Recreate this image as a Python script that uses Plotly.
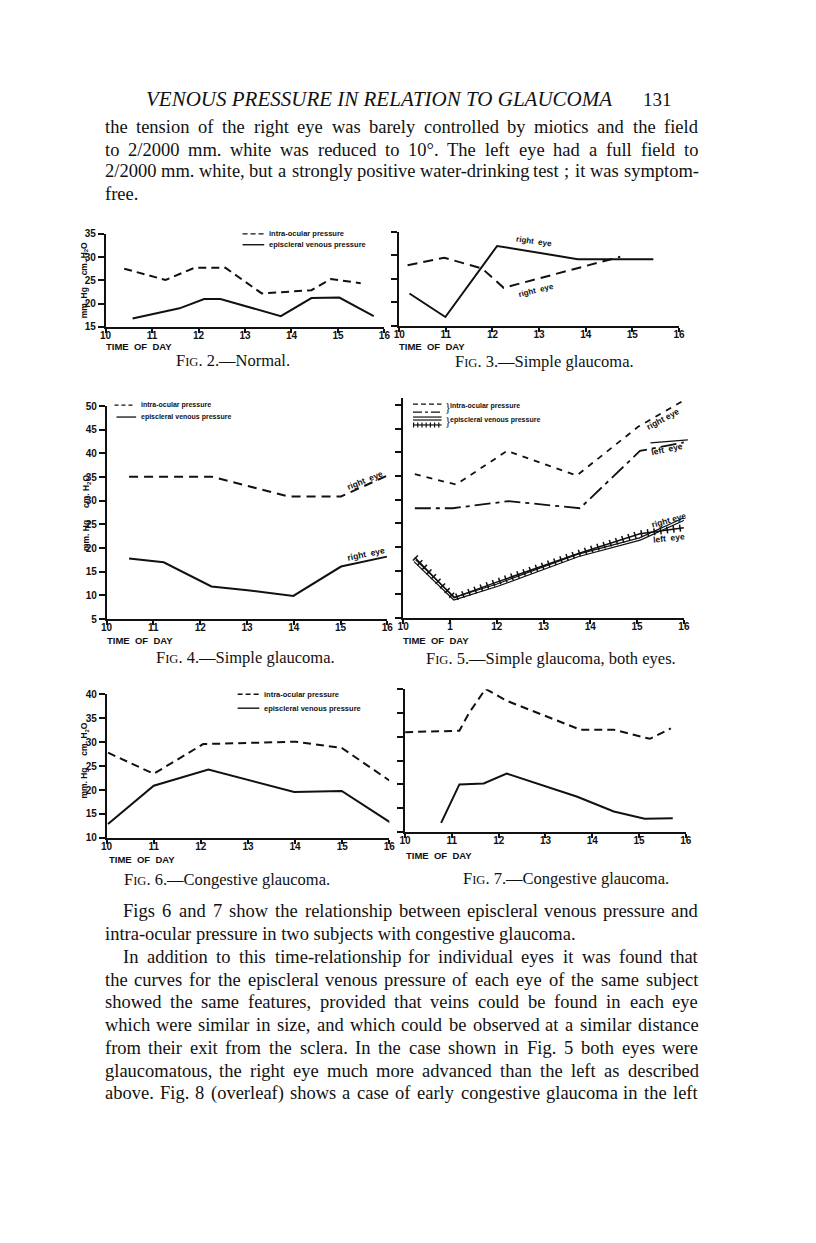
import plotly.graph_objects as go

PAGE_W, PAGE_H = 816, 1243
OFF = 8  # default page margin of the html body
W, H = PAGE_W - OFF, PAGE_H - OFF

# ---------------- data (hours of day, pressure) ----------------
# Fig 2 - Normal
f2_iop_t = [10.40, 11.29, 11.91, 12.58, 13.36, 14.43, 14.85, 15.49]
f2_iop_v = [27.5, 25.1, 27.7, 27.7, 22.2, 22.9, 25.3, 24.4]
f2_evp_t = [10.58, 11.59, 12.12, 12.47, 13.77, 14.43, 15.03, 15.77]
f2_evp_v = [16.8, 19.0, 21.0, 21.0, 17.3, 21.2, 21.3, 17.3]
# Fig 3 - Simple glaucoma
f3_iop_t = [10.18, 10.97, 11.78, 12.24, 14.74]
f3_iop_v = [27.9, 29.5, 27.2, 23.1, 29.7]
f3_evp_t = [10.22, 10.99, 12.10, 13.83, 15.45]
f3_evp_v = [21.9, 16.9, 32.0, 29.2, 29.2]
# Fig 4 - Simple glaucoma
f4_iop_t = [10.48, 12.24, 13.89, 15.01, 15.99]
f4_iop_v = [35.1, 35.1, 30.9, 30.9, 35.3]
f4_evp_t = [10.48, 11.22, 12.24, 13.01, 13.99, 15.01, 15.99]
f4_evp_v = [17.8, 17.0, 11.9, 11.1, 9.9, 16.1, 18.2]
# Fig 5 - Simple glaucoma, both eyes
f5_iop_r_t = [10.25, 11.13, 12.22, 13.71, 15.02, 16.0]
f5_iop_r_v = [35.4, 33.2, 40.3, 35.1, 45.4, 51.0]
f5_iop_l_t = [10.25, 11.06, 12.25, 13.78, 15.06, 16.0]
f5_iop_l_v = [28.2, 28.2, 29.7, 28.2, 40.3, 42.1]
f5_evp_t = [10.25, 11.09, 12.0, 13.73, 15.06, 16.0]
f5_evp_r_v = [17.1, 9.1, 11.9, 18.2, 21.7, 25.9]
f5_evp_l_v = [17.8, 9.3, 12.6, 18.6, 22.8, 24.1]
# Fig 6 - Congestive glaucoma
f6_iop_t = [10.03, 11.0, 12.05, 14.01, 14.99, 16.0]
f6_iop_v = [27.8, 23.4, 29.6, 30.1, 28.8, 22.0]
f6_evp_t = [10.03, 11.0, 12.16, 13.98, 14.99, 16.04]
f6_evp_v = [12.9, 20.9, 24.3, 19.6, 19.8, 13.1]
# Fig 7 - Congestive glaucoma
f7_iop_t = [10.0, 11.16, 11.37, 11.72, 12.17, 13.75, 14.46, 15.23, 15.68]
f7_iop_v = [31.0, 31.3, 35.1, 40.1, 37.6, 31.5, 31.5, 29.6, 31.8]
f7_evp_t = [10.77, 11.16, 11.68, 12.17, 13.68, 14.46, 15.12, 15.72]
f7_evp_v = [11.9, 20.0, 20.2, 22.3, 17.4, 14.3, 12.8, 12.9]

hour_ticks = [10, 11, 12, 13, 14, 15, 16]
hour_labels_a = ["10", "11", "12", "13", "14", "15", "16"]
hour_labels_5 = ["10", "1", "12", "13", "14", "15", "16"]

BLACK = "#111111"
SANS = "Liberation Sans Narrow, Arial Narrow, Liberation Sans, Arial"
SERIF = "Liberation Serif, Times New Roman, serif"


def px(x):
    return (x - OFF) / W


def py(y):
    return 1 - (y - OFF) / H


fig = go.Figure()

panels = [
    ("", (101, 384), (324, 230), (15, 35), [15, 20, 25, 30, 35], True),
    ("2", (399, 683), (323, 228), (15, 35), [15, 20, 25, 30, 35], False),
    ("3", (102, 387), (619, 404), (5, 50), list(range(5, 51, 5)), True),
    ("4", (403, 688), (618, 395.7), (5, 51.5), list(range(5, 51, 5)), False),
    ("5", (102, 389), (840, 695), (10, 40), list(range(10, 41, 5)), True),
    ("6", (405, 690), (834, 690), (10, 40), list(range(10, 41, 5)), False),
]

layout_axes = {}
for i, (s, (x0, x1), (yb, yt), yr, yt_vals, ylab) in enumerate(panels):
    common = dict(showline=True, linecolor=BLACK, linewidth=1.6, ticks="outside",
                  tickwidth=1.5, tickcolor=BLACK, showgrid=False,
                  zeroline=False, fixedrange=True,
                  tickfont=dict(family=SANS, size=10, color=BLACK, weight="bold"))
    layout_axes["xaxis" + s] = dict(common, domain=[px(x0), px(x1)], range=[10, 16],
                                    anchor="y" + s, tickvals=hour_ticks, ticklen=4,
                                    ticklabelstandoff=-6,
                                    ticktext=hour_labels_5 if i == 3 else hour_labels_a)
    layout_axes["yaxis" + s] = dict(common, domain=[py(yb), py(yt)], range=list(yr),
                                    anchor="x" + s, tickvals=yt_vals, ticklen=6,
                                    ticklabelstandoff=0, showticklabels=ylab)


def line(t, v, ax, dash="solid", width=2.0, color=BLACK):
    fig.add_trace(go.Scatter(x=t, y=v, mode="lines", xaxis="x" + ax, yaxis="y" + ax,
                             line=dict(color=color, width=width, dash=dash),
                             showlegend=False, hoverinfo="skip"))


DASH = "8px,5px"
line(f2_iop_t, f2_iop_v, "", DASH)
line(f2_evp_t, f2_evp_v, "")
line(f3_iop_t, f3_iop_v, "2", "10px,6px")
line(f3_evp_t, f3_evp_v, "2")
line(f4_iop_t, f4_iop_v, "3", "9px,6px")
line(f4_evp_t, f4_evp_v, "3")
line(f5_iop_r_t, f5_iop_r_v, "4", "6px,6px", 1.8)
line(f5_iop_l_t, f5_iop_l_v, "4", "16px,5px,4px,5px", 1.8)
line(f5_evp_t, f5_evp_r_v, "4", "solid", 3.6)
line(f5_evp_t, f5_evp_r_v, "4", "solid", 1.2, "white")
line(f5_evp_t, f5_evp_l_v, "4", "solid", 1.5)
line(f5_evp_t, f5_evp_l_v, "4", "1.5px,5px", 7)
line(f6_iop_t, f6_iop_v, "5", DASH)
line(f6_evp_t, f6_evp_v, "5")
line(f7_iop_t, f7_iop_v, "6", DASH)
line(f7_evp_t, f7_evp_v, "6")

annotations = []
shapes = []


def text(x, y, s, size=9, family=SANS, angle=0, xanchor="left", weight="bold",
         color=BLACK, yanchor="middle"):
    annotations.append(dict(x=px(x), y=py(y), xref="paper", yref="paper", text=s,
                            showarrow=False, xanchor=xanchor, yanchor=yanchor,
                            textangle=angle, borderpad=0, borderwidth=0,
                            font=dict(family=family, size=size, color=color,
                                      weight=weight)))


def seg(x0, y0, x1, y1, dash="solid", width=1.6, color=BLACK):
    shapes.append(dict(type="line", xref="paper", yref="paper",
                       x0=px(x0), y0=py(y0), x1=px(x1), y1=py(y1),
                       line=dict(color=color, width=width, dash=dash)))


# Times-Roman advance widths (per 1000 em) for justified body text
TW = {" ": 250, ",": 250, ".": 250, "-": 333, "/": 278, ";": 278, ":": 278,
      "(": 333, ")": 333, "°": 400, "'": 333}
TW.update({d: 500 for d in "0123456789"})
TW.update(dict(zip("abcdefghijklmnopqrstuvwxyz",
                   [444, 500, 444, 500, 444, 333, 500, 500, 278, 278, 500, 278, 778,
                    500, 500, 500, 500, 333, 389, 278, 500, 500, 722, 500, 500, 444])))
TW.update(dict(zip("ABCDEFGHIJKLMNOPQRSTUVWXYZ",
                   [722, 667, 667, 722, 611, 556, 722, 722, 333, 389, 722, 611, 889,
                    722, 722, 556, 722, 667, 556, 611, 722, 722, 944, 722, 722, 611])))
BODY = 18.5
RIGHT = 702


def tw(s, size=BODY):
    return sum(TW.get(c, 500) for c in s) * size / 1000


def body_line(x0, y, s, justify=True):
    if not justify:
        text(x0, y, s, size=BODY, family=SERIF, weight="normal")
        return
    words = s.split()
    total = sum(tw(w) for w in words)
    gap = (RIGHT - x0 - total) / (len(words) - 1)
    x = x0
    for w in words:
        text(x, y, w, size=BODY, family=SERIF, weight="normal")
        x += tw(w) + gap


# ---------------- page text ----------------
text(142, 94, "<i>VENOUS PRESSURE IN RELATION TO GLAUCOMA</i>", size=21,
     family=SERIF, weight="normal")
text(646, 94, "131", size=19, family=SERIF, weight="normal")

paragraphs = [
    (100, 122, "the tension of the right eye was barely controlled by miotics and the field", True),
    (100, 145, "to 2/2000 mm. white was reduced to 10°.   The left eye had a full field to", True),
    (100, 167, "2/2000 mm. white, but a strongly positive water-drinking test ; it was symptom-", True),
    (100, 190, "free.", False),
    (119, 914, "Figs 6 and 7 show the relationship between episcleral venous pressure and", True),
    (100, 937, "intra-ocular pressure in two subjects with congestive glaucoma.", False),
    (119, 960, "In addition to this time-relationship for individual eyes it was found that", True),
    (100, 983, "the curves for the episcleral venous pressure of each eye of the same subject", True),
    (100, 1006, "showed the same features, provided that veins could be found in each eye", True),
    (100, 1029, "which were similar in size, and which could be observed at a similar distance", True),
    (100, 1052, "from their exit from the sclera.   In the case shown in Fig. 5 both eyes were", True),
    (100, 1075, "glaucomatous, the right eye much more advanced than the left as described", True),
    (100, 1098, "above.   Fig. 8 (overleaf) shows a case of early congestive glaucoma in the left", True),
]
for x, y, s, j in paragraphs:
    body_line(x, y, s, j)


def cap(x, y, num, rest):
    s = "F<span style='font-size:12.5px'>IG</span>. " + num + ".\u2014" + rest
    text(x, y, s, size=16.5, family=SERIF, weight="normal", xanchor="center")


cap(230, 358, "2", "Normal.")
cap(546, 359, "3", "Simple glaucoma.")
cap(243, 658, "4", "Simple glaucoma.")
cap(553, 659, "5", "Simple glaucoma, both eyes.")
cap(224, 882, "6", "Congestive glaucoma.")
cap(568, 881, "7", "Congestive glaucoma.")

# TIME OF DAY
for x, y in [(101, 344), (399, 344), (102, 641), (403, 641), (104, 862), (406, 858)]:
    text(x, y, "TIME&nbsp; OF&nbsp; DAY", size=9.5)

# y-axis titles
for x, y in [(79, 277), (81, 512), (80, 762)]:
    text(x, y, "mm. Hg&nbsp;&nbsp;&nbsp;&nbsp;&nbsp;cm. H<sub>2</sub>O", size=8.5, angle=-90,
         xanchor="center")

# Fig 2 legend
seg(240, 230, 262, 230, "5px,3px", 1.4)
text(267, 230, "intra-ocular pressure", size=7.5)
seg(240, 241, 262, 241, "solid", 1.4)
text(267, 241, "episcleral venous pressure", size=7.5)

# Fig 3 labels
text(517, 238, "right  eye", size=8, angle=8)
text(519, 287, "right  eye", size=8, angle=-14)

# Fig 4 legend & labels
seg(110, 403, 131, 403, "4px,3px", 1.3)
text(137, 403, "intra-ocular pressure", size=7)
seg(112, 415, 132, 415, "solid", 1.3)
text(137, 415, "episcleral venous pressure", size=7)
text(345, 479, "right  eye", size=8.5, angle=-22)
text(345, 553, "right  eye", size=8.5, angle=-12)

# Fig 5 legend & labels
seg(413, 402, 442, 402, "5px,3px", 1.3)
seg(413, 410, 442, 410, "9px,3px,3px,3px", 1.3)
seg(413, 415, 442, 415, "solid", 1.2)
seg(413, 418, 442, 418, "solid", 1.2)
seg(413, 423, 442, 423, "solid", 1.2)
seg(413, 423, 442, 423, "1.2px,3px", 5)
text(445, 406, "}", size=12, family=SERIF, weight="normal")
text(451, 404, "intra-ocular pressure", size=7)
text(445, 420, "}", size=12, family=SERIF, weight="normal")
text(451, 418, "episcleral venous pressure", size=7)
text(648, 417, "right eye", size=8.5, angle=-28)
text(654, 447, "left  eye", size=8.5, angle=-12)
seg(654, 441, 692, 438, "solid", 1.2)
text(654, 519, "right eye", size=8.5, angle=-16)
text(656, 537, "left  eye", size=8.5, angle=-6)

# Fig 6 legend
seg(235, 695, 257, 695, "5px,3px", 1.4)
text(262, 695, "intra-ocular pressure", size=7.5)
seg(235, 709, 257, 709, "solid", 1.4)
text(262, 709, "episcleral venous pressure", size=7.5)

fig.update_layout(
    width=W, height=H, margin=dict(l=0, r=0, t=0, b=0),
    paper_bgcolor="white", plot_bgcolor="rgba(0,0,0,0)",
    showlegend=False, annotations=annotations, shapes=shapes,
    **layout_axes,
)

fig.write_html("out.html")
